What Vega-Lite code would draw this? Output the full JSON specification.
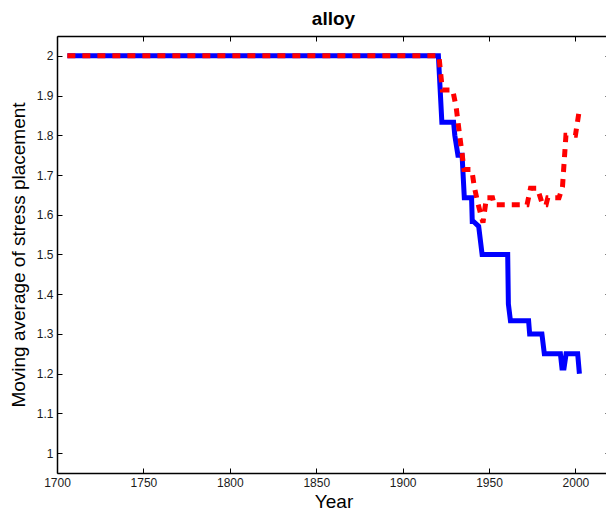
{
  "$schema": "https://vega.github.io/schema/vega-lite/v6.json",
  "width": 553,
  "height": 437,
  "autosize": {"type": "none"},
  "padding": {"left": 57, "top": 36, "right": -4, "bottom": 39},
  "background": "white",
  "view": {"stroke": null},
  "config": {
    "font": "Liberation Sans",
    "axis": {
      "grid": false,
      "domainColor": "#000000",
      "domainWidth": 1.5,
      "tickColor": "#000000",
      "tickWidth": 1,
      "tickSize": -5,
      "labelColor": "#1a1a1a",
      "labelFont": "Liberation Sans",
      "labelFontSize": 12,
      "titleFont": "Liberation Sans",
      "titleFontSize": 19,
      "titleFontWeight": "normal",
      "titleColor": "#000000"
    }
  },
  "title": {
    "text": "alloy",
    "font": "Liberation Sans",
    "fontSize": 19,
    "fontWeight": "bold",
    "color": "#000000",
    "anchor": "middle",
    "offset": 7
  },
  "data": {
    "values": [
      {"year": 1706, "value": 2, "series": "primary"},
      {"year": 1920.7, "value": 2, "series": "primary"},
      {"year": 1922.7, "value": 1.833, "series": "primary"},
      {"year": 1929.5, "value": 1.833, "series": "primary"},
      {"year": 1930.2, "value": 1.8, "series": "primary"},
      {"year": 1932, "value": 1.75, "series": "primary"},
      {"year": 1934.4, "value": 1.75, "series": "primary"},
      {"year": 1935.7, "value": 1.643, "series": "primary"},
      {"year": 1939.9, "value": 1.643, "series": "primary"},
      {"year": 1940.3, "value": 1.583, "series": "primary"},
      {"year": 1941, "value": 1.583, "series": "primary"},
      {"year": 1944, "value": 1.571, "series": "primary"},
      {"year": 1946, "value": 1.5, "series": "primary"},
      {"year": 1960.8, "value": 1.5, "series": "primary"},
      {"year": 1961.2, "value": 1.375, "series": "primary"},
      {"year": 1962.4, "value": 1.333, "series": "primary"},
      {"year": 1972.9, "value": 1.333, "series": "primary"},
      {"year": 1973.5, "value": 1.3, "series": "primary"},
      {"year": 1980.6, "value": 1.3, "series": "primary"},
      {"year": 1982, "value": 1.25, "series": "primary"},
      {"year": 1991.3, "value": 1.25, "series": "primary"},
      {"year": 1992.2, "value": 1.214, "series": "primary"},
      {"year": 1993.4, "value": 1.214, "series": "primary"},
      {"year": 1994.6, "value": 1.25, "series": "primary"},
      {"year": 2001.3, "value": 1.25, "series": "primary"},
      {"year": 2002.3, "value": 1.2, "series": "primary"},
      {"year": 1706, "value": 2, "series": "secondary"},
      {"year": 1921, "value": 2, "series": "secondary"},
      {"year": 1923, "value": 1.914, "series": "secondary"},
      {"year": 1929, "value": 1.914, "series": "secondary"},
      {"year": 1931, "value": 1.87, "series": "secondary"},
      {"year": 1933, "value": 1.8, "series": "secondary"},
      {"year": 1934.5, "value": 1.75, "series": "secondary"},
      {"year": 1935.5, "value": 1.714, "series": "secondary"},
      {"year": 1940, "value": 1.714, "series": "secondary"},
      {"year": 1941.5, "value": 1.67, "series": "secondary"},
      {"year": 1943.5, "value": 1.63, "series": "secondary"},
      {"year": 1946.5, "value": 1.58, "series": "secondary"},
      {"year": 1948.5, "value": 1.643, "series": "secondary"},
      {"year": 1952, "value": 1.643, "series": "secondary"},
      {"year": 1953, "value": 1.625, "series": "secondary"},
      {"year": 1972, "value": 1.625, "series": "secondary"},
      {"year": 1974, "value": 1.667, "series": "secondary"},
      {"year": 1978, "value": 1.667, "series": "secondary"},
      {"year": 1981, "value": 1.625, "series": "secondary"},
      {"year": 1983, "value": 1.625, "series": "secondary"},
      {"year": 1984, "value": 1.643, "series": "secondary"},
      {"year": 1990.5, "value": 1.643, "series": "secondary"},
      {"year": 1992.5, "value": 1.67, "series": "secondary"},
      {"year": 1994.5, "value": 1.8, "series": "secondary"},
      {"year": 2000, "value": 1.8, "series": "secondary"},
      {"year": 2002, "value": 1.857, "series": "secondary"}
    ]
  },
  "layer": [
    {
      "transform": [{"filter": "datum.series === 'primary'"}],
      "mark": {"type": "line", "color": "#0000ff", "strokeWidth": 5, "strokeCap": "butt", "strokeJoin": "miter", "clip": true},
      "encoding": {
        "x": {
          "field": "year",
          "type": "quantitative",
          "scale": {"domain": [1700, 2020], "nice": false, "zero": false},
          "axis": {
            "orient": "bottom",
            "title": "Year",
            "values": [1700, 1750, 1800, 1850, 1900, 1950, 2000],
            "format": "d",
            "labelPadding": 9,
            "labelFlush": false,
            "titlePadding": 4
          }
        },
        "y": {
          "field": "value",
          "type": "quantitative",
          "scale": {"domain": [0.95, 2.05], "nice": false, "zero": false},
          "axis": {
            "orient": "left",
            "title": "Moving average of stress placement",
            "values": [1, 1.1, 1.2, 1.3, 1.4, 1.5, 1.6, 1.7, 1.8, 1.9, 2],
            "labelExpr": "datum.value === 1 ? '1' : datum.value === 2 ? '2' : format(datum.value, '.1f')",
            "labelPadding": 9,
            "titlePadding": 8
          }
        }
      }
    },
    {
      "transform": [{"filter": "datum.series === 'secondary'"}],
      "mark": {"type": "line", "color": "#ff0000", "strokeWidth": 5, "strokeCap": "butt", "strokeJoin": "miter", "strokeDash": [8, 7], "clip": true},
      "encoding": {
        "x": {
          "field": "year",
          "type": "quantitative",
          "axis": {
            "orient": "top",
            "title": null,
            "labels": false,
            "values": [1700, 1750, 1800, 1850, 1900, 1950, 2000]
          }
        },
        "y": {
          "field": "value",
          "type": "quantitative",
          "axis": {
            "orient": "right",
            "title": null,
            "labels": false,
            "values": [1, 1.1, 1.2, 1.3, 1.4, 1.5, 1.6, 1.7, 1.8, 1.9, 2]
          }
        }
      }
    }
  ],
  "resolve": {"axis": {"x": "independent", "y": "independent"}}
}
